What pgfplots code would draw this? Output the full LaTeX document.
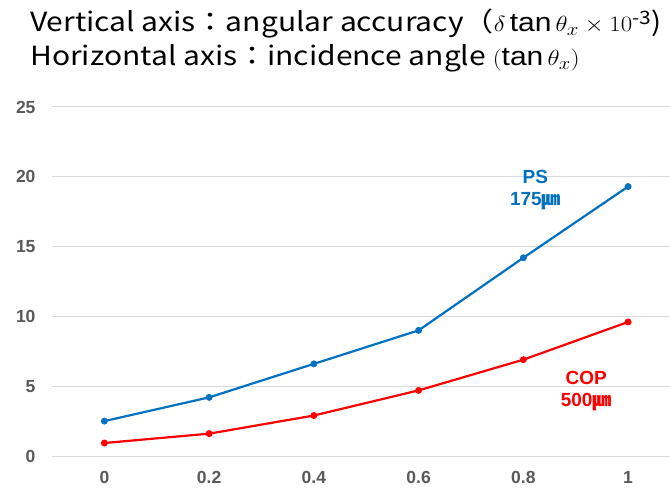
\documentclass[border=0pt]{standalone}
\usepackage{amsmath}
\usepackage{pgfplots}
\pgfplotsset{compat=1.18}
\usepackage{fontspec}
\setmainfont{Liberation Sans}
\newfontfamily\cjk{Noto Sans CJK JP}
\definecolor{psblue}{RGB}{0,112,192}
\definecolor{copred}{RGB}{255,0,0}
\definecolor{ticktxt}{RGB}{89,89,89}
\definecolor{gridc}{RGB}{217,217,217}
\newcommand\tl[1]{\mbox{\color{ticktxt}\fontsize{17.5}{20}\selectfont\bfseries #1}}
\begin{document}
\begin{tikzpicture}[x=1pt,y=1pt]
\useasboundingbox (0,0) rectangle (670,488);
\node[anchor=base west,inner sep=0pt] at (30,456)
  {\scalebox{1}[0.88]{\cjk\fontsize{30}{32}\selectfont Vertical axis：angular accuracy（$\delta\tan\theta_x\times10^{\text{-3}}$)}};
\node[anchor=base west,inner sep=0pt] at (30,422)
  {\scalebox{1}[0.88]{\cjk\fontsize{30}{32}\selectfont Horizontal axis：incidence angle $(\tan\theta_x)$}};
\begin{axis}[
  at={(52pt,32pt)}, anchor=south west,
  scale only axis, width=618pt, height=349pt,
  xmin=-0.1, xmax=1.08, ymin=0, ymax=25,
  axis line style={draw=none},
  clip=false,
  ymajorgrids, grid style={gridc, line width=1pt},
  ytick={0,5,...,25},
  xtick={0,0.2,0.4,0.6,0.8,1},
  xticklabels={\tl{0},\tl{0.2},\tl{0.4},\tl{0.6},\tl{0.8},\tl{1}},
  yticklabels={\tl{0},\tl{5},\tl{10},\tl{15},\tl{20},\tl{25}},
  yticklabel style={xshift=-13pt},
  xticklabel style={yshift=-12pt},
  major tick length=0pt,
  tick style={draw=none},
]
\addplot[psblue, line width=2.2pt, mark=*, mark size=2.3pt] coordinates {
 (0,2.5) (0.2,4.2) (0.4,6.6) (0.6,9.0) (0.8,14.2) (1,19.3)};
\addplot[copred, line width=2.2pt, mark=*, mark size=2.3pt] coordinates {
 (0,0.93) (0.2,1.6) (0.4,2.9) (0.6,4.7) (0.8,6.9) (1,9.6)};
\node[align=center, text=psblue, font=\bfseries\fontsize{19}{22}\selectfont] at (axis cs:0.823,19.05)
  {PS\\175{\cjk ㎛}};
\node[align=center, text=copred, font=\bfseries\fontsize{19}{22}\selectfont] at (axis cs:0.92,4.65)
  {COP\\500{\cjk ㎛}};
\end{axis}
\end{tikzpicture}
\end{document}
